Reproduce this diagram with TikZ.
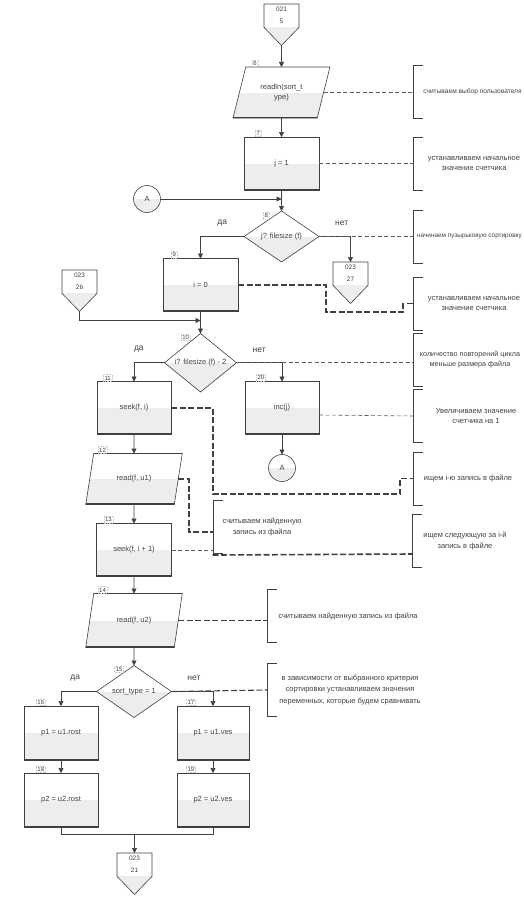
\documentclass[tikz,border=0pt]{standalone}
\usepackage{fontspec}
\setmainfont{Liberation Sans}
\usetikzlibrary{positioning, arrows.meta, shapes.geometric, shapes.symbols}

\definecolor{linec}{HTML}{404040}
\definecolor{lowfill}{HTML}{EDEDED}

\tikzset{
  txt/.style={font=\fontsize{7.5}{10.5}\selectfont},
  lowhalf/.style={draw=linec, txt, align=center, inner sep=1pt, outer sep=0pt,
    path picture={\fill[lowfill] (path picture bounding box.west) rectangle (path picture bounding box.south east);}},
  lowbar/.style={lowhalf,
    path picture={\fill[lowfill] (path picture bounding box.west) rectangle (path picture bounding box.south east);
      \draw[linec, line width=2.4pt] (path picture bounding box.south west) -- (path picture bounding box.south east);}},
  block/.style={lowbar, rectangle, minimum width=75pt, minimum height=53pt},
  io/.style={lowbar, trapezium, trapezium left angle=68, trapezium right angle=112,
    trapezium stretches=true, minimum width=97pt, minimum height=51pt},
  decision/.style={lowhalf, diamond, minimum width=75pt, minimum height=51pt, inner sep=0pt},
  joint/.style={lowhalf, circle, minimum size=27pt, inner sep=0pt},
  offpage/.style={draw=linec, align=center, font=\fontsize{6.5}{12}\selectfont,
    signal, signal to=south, signal pointer angle=88, minimum width=35pt, minimum height=30pt,
    inner sep=1pt, outer sep=0pt, anchor=north,
    path picture={\fill[lowfill] ([yshift=-23pt]path picture bounding box.north west) rectangle (path picture bounding box.south east);}},
  num/.style={font=\fontsize{6}{7}\selectfont, inner sep=1.2pt, draw=gray!45, densely dotted},
  yesno/.style={font=\fontsize{8.5}{10}\selectfont},
  note/.style={txt, anchor=west, minimum height=53pt, minimum width=122pt, align=center, inner sep=0pt, outer sep=0pt},
  brk/.style={draw=linec},
  notelink/.style={draw=linec!85, dash pattern=on 4pt off 2.5pt},
  midlink/.style={draw=linec, line width=1.1pt, dash pattern=on 6pt off 2.5pt},
  boldlink/.style={draw=linec, line width=1.6pt, dash pattern=on 6pt off 2.5pt}
}

\begin{document}
\begin{tikzpicture}[x=1pt, y=-1pt, line width=0.6pt, color=linec, >={Triangle[length=5pt, width=5pt]}]
	\useasboundingbox (0,0) rectangle (524,900);
	\clip (0,0) rectangle (524,900);

	% Blocks of the upper part
	\node[offpage] (c5) at (281.5,4) {021\\5};
	\node[io] (p6) at (281.5,92.5) {readln(sort\_t\\ype)};
	\node[block, below=19pt of p6] (b7) {j = 1};
	\node[decision, below=21pt of b7] (d8) {j? filesize (f)};
	\node[joint] (jA) at (147,199) {A};
	\node[block] (b9) at (200.5,285) {i = 0};
	\node[offpage] (c27) at (350.5,262) {023\\27};
	\node[offpage] (c26) at (79.5,270) {023\\26};
	\node[decision, below=22pt of b9, minimum width=72pt] (d10) {i? filesize (f) - 2};
	\node[block, minimum width=74pt] (b11) at (134,408) {seek(f, i)};
	\node[block, minimum width=74pt] (b20) at (282,408) {inc(j)};
	\node[joint, below=20pt of b20] (jA2) {A};

	% Blocks of the lower part
	\node[io, below=19pt of b11] (p12) {read(f, u1)};
	\node[block, below=19pt of p12] (b13) {seek(f, i + 1)};
	\node[io, below=17pt of b13, minimum height=54pt] (p14) {read(f, u2)};
	\node[decision, below=18pt of p14, minimum height=52pt] (d15) {sort\_type = 1};
	\node[block, minimum width=74pt, minimum height=54pt] (b16) at (61,733) {p1 = u1.rost};
	\node[block, minimum width=72pt, minimum height=54pt] (b17) at (213,733) {p1 = u1.ves};
	\node[block, minimum width=74pt, minimum height=54pt, below=13pt of b16] (b18) {p2 = u2.rost};
	\node[block, minimum width=72pt, minimum height=54pt, below=13pt of b17] (b19) {p2 = u2.ves};
	\node[offpage] (c21) at (134.5,853) {023\\21};

	% Step numbers
	\node[num, above right=0pt and 6pt of p6.top left corner] (n6) {6};
	\node[num, above right=0pt and 11pt of b7.north west] (n7) {7};
	\node[num, below left=1pt and 12pt of d8.north] (n8) {8};
	\node[num, above right=0pt and 8pt of b9.north west] (n9) {9};
	\node[num, below left=0pt and 10pt of d10.north] (n10) {10};
	\node[num, above right=0pt and 6pt of b11.north west] (n11) {11};
	\node[num, above right=0pt and 11pt of b20.north west] (n20) {20};
	\node[num, above right=0pt and 4pt of p12.top left corner] (n12) {12};
	\node[num, above right=0pt and 7pt of b13.north west] (n13) {13};
	\node[num, above right=0pt and 4pt of p14.top left corner] (n14) {14};
	\node[num, below left=0pt and 10pt of d15.north] (n15) {15};
	\node[num, above right=0pt and 12pt of b16.north west] (n16) {16};
	\node[num, above right=0pt and 9pt of b17.north west] (n17) {17};
	\node[num, above right=0pt and 12pt of b18.north west] (n18) {18};
	\node[num, above right=0pt and 9pt of b19.north west] (n19) {19};

	% Comments
	\node[note, minimum width=119pt, font=\fontsize{6.6}{9}\selectfont] (k1) at (413,92) {считываем выбор пользователя};
	\node[note] (k2) at (413,163.5) {устанавливаем начальное\\значение счетчика};
	\node[note, minimum width=113pt, font=\fontsize{6.4}{9}\selectfont] (k3) at (413,236.5) {начинаем пузырьковую сортировку};
	\node[note] (k4) at (413,303.5) {устанавливаем начальное\\значение счетчика};
	\node[note, minimum width=114pt, font=\fontsize{7.2}{10.5}\selectfont] (k5) at (413,359.5) {количество повторений цикла\\меньше размера файла};
	\node[note, minimum width=126pt] (k6) at (413,416) {Увеличиваем значение\\счетчика на 1};
	\node[note, minimum width=110pt] (k7) at (413,478.5) {ищем i-ю запись в файле};
	\node[note, minimum width=98pt] (k8) at (213,527) {считываем найденную\\запись из файла};
	\node[note, minimum width=106pt] (k9) at (412,541) {ищем следующую за i-й\\запись в файле};
	\node[note, minimum width=162pt] (k10) at (267,616) {считываем найденную запись из файла};
	\node[note, minimum width=166pt, font=\fontsize{7.5}{11.5}\selectfont] (k11) at (267,690) {в зависимости от выбранного критерия\\сортировки устанавливаем значения\\переменных, которые будем сравнивать};
	\foreach \k in {1,...,11}
		\draw[brk] ([xshift=10pt]k\k.north west) -| (k\k.south west) -- ++(10,0);

	% Flow lines
	\coordinate (mA) at (jA -| d8.north);
	\coordinate (m26) at ([yshift=-9pt]b9.south);
	\coordinate (m21) at ([yshift=-7pt]b18.south -| c21.north);
	\draw[->] (c5) -- (p6);
	\draw[->] (p6) -- (b7);
	\draw[->] (b7) -- (d8);
	\draw[->] (jA) -- (mA);
	\draw[->] (d8.west) -| (b9.north) node[yesno, pos=0.25, above=7pt] {да};
	\draw[->] (d8.east) -| (c27.north) node[yesno, pos=0.36, above=7pt] {нет};
	\draw[->] (b9) -- (d10);
	\draw[->, line width=1.4pt] (c26.south) |- (m26);
	\draw[->] (d10.west) -| (b11.north) node[yesno, pos=0.42, above=7pt] {да};
	\draw[->] (d10.east) -| (b20.north) node[yesno, pos=0.25, above=7pt] {нет};
	\draw[->] (b20) -- (jA2);
	\draw[->] (b11) -- (p12);
	\draw[->] (p12) -- (b13);
	\draw[->] (b13) -- (p14);
	\draw[->] (p14) -- (d15);
	\draw[->] (d15.west) -| (b16.north) node[yesno, pos=0.3, above=7pt] {да};
	\draw[->] (d15.east) -| (b17.north) node[yesno, pos=0.27, above=7pt] {нет};
	\draw[->] (b16) -- (b18);
	\draw[->] (b17) -- (b19);
	\draw (b18.south) |- (m21) -| (b19.south);
	\draw[->] (m21) -- (c21);

	% Comment links
	\draw[notelink] (p6.east) -- (p6.east -| k1.west);
	\draw[notelink] (b7.east) -- (b7.east -| k2.west);
	\draw[notelink] (d8.east) -- (d8.east -| k3.west);
	\draw[boldlink] (b9.east) -- ++(88,0) -- ++(0,27) -- ++(77,0) -- ++(0,-8.5) -- (k4.west);
	\draw[notelink] (d10.east) -- (d10.east -| k5.west);
	\draw[notelink] ([yshift=-7pt]b20.east) -- (k6.west);
	\draw[boldlink] (b11.east) -- ++(42,0) -- ++(0,86) -- ++(187,0) -- ++(0,-15.5) -- (k7.west);
	\draw[boldlink] (p12.east) -- ++(10.5,0) |- ([yshift=-5pt]k8.west);
	\draw[notelink] (b13.east) -- ++(41,0);
	\draw[boldlink] ([xshift=41pt, yshift=-5pt]b13.east) -- ([yshift=-13pt]k9.west);
	\draw[midlink] (p14.east) -- (p14.east -| k10.west);
	\draw[midlink] (d15.east) -- (k11.west);
\end{tikzpicture}
\end{document}
